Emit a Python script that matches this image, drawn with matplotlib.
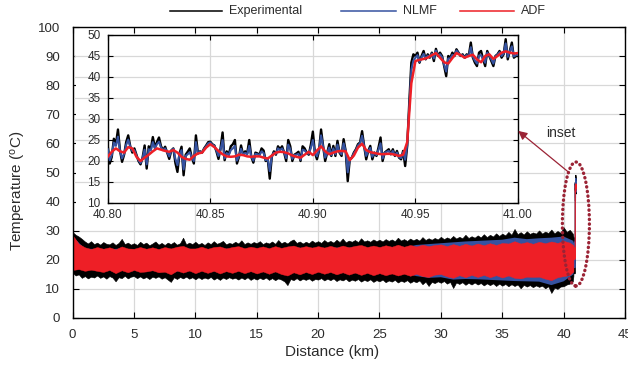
import numpy as np
import matplotlib
matplotlib.use('Agg')
import matplotlib.pyplot as plt
from matplotlib.patches import Ellipse, Rectangle
from matplotlib.lines import Line2D

plt.rcParams['font.family'] = ['Liberation Sans', 'DejaVu Sans']
plt.rcParams['mathtext.default'] = 'regular'

# ---------------- data ----------------
series_names = ['Experimental', 'NLMF', 'ADF']
series_colors = ['#000000', '#3552a0', '#ee1f26']

# Experimental envelope, sampled every 0.25 km
exp_km = np.append(np.arange(0, 40.76, 0.25), 40.8)
exp_upper = [29.5, 28.6, 28.0, 27.2, 26.3, 25.6, 26.4, 25.4, 25.9, 25.2, 26.1, 25.5,
             25.3, 26.0, 25.1, 25.8, 27.2, 25.4, 25.9, 25.2, 25.7, 25.1, 26.2, 25.4,
             25.9, 25.0, 25.6, 26.3, 25.2, 25.8, 25.1, 25.9, 25.4, 26.1, 25.2, 25.7,
             27.6, 25.3, 25.9, 25.4, 26.2, 25.3, 25.8, 25.1, 26.0, 25.4, 26.4, 25.5,
             25.9, 26.5, 25.3, 25.8, 25.5, 26.2, 25.6, 26.7, 25.4, 26.0, 25.5, 26.1,
             25.7, 26.4, 25.4, 26.0, 25.6, 26.3, 25.5, 26.8, 25.7, 26.2, 25.6, 26.5,
             27.0, 25.8, 26.3, 25.6, 26.2, 25.7, 26.6, 25.9, 26.4, 25.8, 26.8, 26.0,
             26.5, 25.9, 26.9, 26.1, 27.3, 26.0, 26.6, 26.2, 26.8, 26.1, 27.4, 26.3,
             26.7, 26.2, 27.0, 26.4, 26.9, 26.3, 27.1, 26.5, 27.0, 26.4, 27.6, 26.6,
             27.1, 26.5, 27.3, 26.7, 27.2, 26.6, 27.8, 26.8, 27.4, 26.9, 27.5, 27.0,
             27.9, 27.1, 27.7, 27.2, 28.2, 27.3, 27.9, 27.4, 28.6, 27.5, 28.1, 27.6,
             28.4, 27.7, 28.8, 27.8, 28.6, 28.0, 29.1, 28.2, 29.0, 28.4, 29.6, 28.6,
             30.6, 28.8, 29.5, 28.7, 29.8, 28.9, 29.4, 29.0, 30.1, 29.0, 29.7, 29.2,
             30.4, 29.1, 29.9, 29.3, 31.2, 29.6, 30.3, 29.0, 28.0]
exp_lower = [15.5, 14.6, 15.0, 13.8, 14.4, 13.6, 14.2, 13.9, 14.6, 13.8, 14.3, 13.5,
             14.4, 13.9, 12.6, 14.0, 13.7, 14.5, 13.6, 14.2, 14.4, 13.7, 14.3, 13.6,
             14.1, 13.4, 14.2, 13.8, 14.3, 13.5, 14.0, 13.2, 12.4, 14.0, 13.4, 14.1,
             13.6, 14.2, 13.5, 14.0, 13.3, 14.0, 13.4, 13.9, 13.5, 14.1, 13.2, 13.8,
             13.1, 13.9, 13.4, 14.0, 13.5, 13.8, 13.2, 13.9, 13.3, 14.0, 13.1, 13.7,
             13.2, 13.8, 13.3, 13.9, 13.1, 13.7, 13.0, 13.6, 13.2, 12.6, 11.3, 13.4,
             13.0, 13.7, 12.9, 13.5, 13.1, 13.6, 12.8, 13.4, 13.2, 13.7, 12.9, 13.5,
             13.0, 13.6, 12.7, 13.3, 12.9, 13.5, 12.6, 13.2, 12.8, 13.4, 12.5, 13.1,
             12.7, 13.3, 12.4, 13.0, 12.6, 13.2, 12.3, 12.9, 12.5, 13.1, 12.2, 12.8,
             12.4, 13.0, 12.1, 12.7, 12.3, 12.9, 11.6, 12.5, 11.0, 12.4, 12.0, 12.6,
             12.1, 12.7, 11.8, 12.4, 10.3, 12.2, 11.7, 12.3, 11.4, 12.1, 11.5, 12.2,
             11.5, 12.0, 11.2, 11.9, 11.3, 11.9, 11.0, 11.8, 11.1, 11.7, 10.9, 11.6,
             11.0, 11.5, 10.2, 11.4, 10.8, 11.3, 10.6, 11.2, 10.7, 11.1, 10.2, 10.9,
             8.6, 10.4, 10.0, 10.8, 10.9, 11.5, 11.8, 12.6, 14.5]

# ADF envelope, sampled every 0.5 km
adf_km = np.append(np.arange(0, 40.51, 0.5), 40.8)
adf_upper = [28.5, 25.5, 24.3, 23.7, 24.4, 23.8, 24.3, 23.6, 24.6, 23.9,
             23.8, 24.4, 23.8, 24.3, 23.7, 24.4, 23.9, 24.5, 24.8, 23.9,
             23.9, 24.5, 23.8, 24.4, 24.6, 23.9, 24.4, 24.7, 24.0, 24.5,
             24.1, 24.6, 24.0, 24.7, 24.1, 24.6, 24.9, 24.2, 24.7, 24.2,
             24.7, 24.2, 24.8, 24.2, 24.9, 24.3, 24.8, 25.1, 24.4, 24.9,
             24.4, 25.0, 24.5, 25.2, 24.5, 25.1, 24.6, 25.2, 24.7, 25.1,
             25.3, 24.7, 25.4, 24.8, 25.5, 24.9, 25.6, 25.0, 25.7, 25.1,
             25.8, 25.6, 26.4, 25.6, 26.1, 25.5, 26.2, 25.7, 26.3, 25.8,
             26.5, 25.9, 25.0]
adf_lower = [16.5, 16.8, 16.2, 16.6, 16.2, 15.8, 16.5, 15.4, 16.4, 15.7,
             16.5, 15.8, 16.0, 16.4, 15.7, 15.9, 15.0, 16.3, 15.6, 16.3,
             15.4, 16.2, 15.5, 16.2, 15.3, 16.1, 15.5, 16.2, 15.4, 16.1,
             15.3, 16.0, 15.2, 16.0, 15.1, 14.6, 15.7, 15.0, 15.8, 15.1,
             15.9, 15.2, 15.8, 15.0, 15.7, 14.9, 15.6, 14.8, 15.5, 14.7,
             15.4, 14.7, 15.3, 14.6, 15.2, 14.5, 15.2, 14.4, 14.1, 14.9,
             15.1, 14.3, 13.8, 14.7, 14.0, 14.8, 14.1, 14.8, 14.0, 14.7,
             13.9, 14.6, 13.8, 13.6, 14.2, 14.1, 14.2, 13.5, 13.0, 14.0,
             14.4, 14.8, 16.0]

# NLMF envelope, sampled every 1 km
nlmf_km = np.append(np.arange(0, 40.1, 1.0), 40.8)
nlmf_upper = [28.0, 23.8, 23.7, 23.6, 23.9, 23.4, 23.5, 23.4, 23.5, 24.1,
              23.5, 23.5, 23.9, 23.7, 23.6, 23.7, 23.6, 23.7, 24.2, 24.0,
              24.0, 24.1, 24.2, 24.1, 24.0, 24.0, 24.1, 24.1, 25.1, 25.4,
              25.7, 26.0, 26.3, 26.5, 26.7, 26.9, 27.6, 27.1, 27.4, 27.6,
              28.0, 26.5]
nlmf_lower = [17.0, 16.9, 16.9, 16.8, 16.7, 16.8, 16.3, 16.4, 15.7, 16.3,
              16.1, 16.2, 16.0, 16.2, 16.1, 16.0, 15.9, 15.8, 16.0, 16.1,
              16.2, 16.1, 16.0, 15.9, 15.8, 15.7, 15.6, 15.5, 14.4, 13.8,
              14.0, 13.2, 13.4, 13.3, 13.1, 12.9, 12.7, 12.6, 12.5, 11.3,
              12.6, 15.0]

# detailed traces, 40.800 - 41.000 km (1 m steps)
inset_km = np.linspace(40.8, 41.0, 201)
exp_detail = [23.7, 19.4, 21.0, 25.3, 24.0, 27.5, 22.5, 19.8, 21.5, 24.5,
              26.1, 23.5, 22.0, 23.0, 21.5, 20.0, 19.2, 20.8, 23.7, 18.2,
              23.5, 22.8, 25.7, 23.2, 24.5, 25.6, 23.5, 22.6, 23.4, 22.0,
              20.5, 22.5, 23.0, 19.5, 17.4, 21.8, 23.4, 16.6, 21.5, 22.2,
              23.0, 20.8, 19.4, 26.1, 21.8, 22.3, 22.0, 23.0, 23.7, 24.5,
              24.6, 24.0, 23.7, 22.3, 20.5, 23.0, 26.8, 20.2, 22.3, 21.5,
              23.5, 24.0, 25.0, 19.4, 21.0, 23.7, 21.5, 22.3, 21.8, 25.0,
              21.0, 19.6, 22.0, 21.8, 21.5, 23.0, 22.5, 20.0, 20.5, 15.8,
              21.0, 22.3, 21.5, 23.5, 22.8, 23.5, 22.0, 20.0, 25.0, 23.5,
              20.0, 21.5, 21.8, 22.2, 20.0, 23.5, 23.0, 22.0, 21.5, 23.8,
              27.0, 22.0, 20.4, 22.4, 27.5, 23.6, 20.0, 22.0, 24.0, 21.2,
              23.6, 21.2, 24.8, 22.0, 21.2, 25.2, 22.4, 15.2, 20.4, 20.8,
              22.0, 22.8, 24.0, 24.4, 27.1, 23.6, 20.4, 22.4, 23.6, 20.4,
              22.0, 21.2, 23.2, 25.6, 20.0, 22.0, 22.4, 22.8, 21.6, 22.8,
              21.2, 22.4, 20.8, 20.4, 22.4, 18.8, 23.6, 33.9, 43.4, 45.4,
              45.0, 45.8, 43.4, 45.0, 46.2, 44.2, 45.4, 44.6, 45.8, 43.8,
              46.7, 45.0, 45.8, 45.0, 42.6, 40.2, 45.0, 44.6, 45.8, 45.0,
              46.6, 45.8, 45.0, 45.4, 44.6, 45.4, 45.0, 48.2, 44.6, 43.4,
              42.6, 45.8, 46.2, 44.2, 42.6, 46.2, 45.0, 43.8, 42.6, 45.0,
              45.4, 46.2, 44.6, 45.4, 49.0, 44.2, 46.2, 48.2, 44.6, 45.0,
              45.0]
nlmf_detail = [22.8, 20.2, 21.4, 24.4, 23.6, 25.8, 22.4, 20.6, 21.7, 23.8,
               25.1, 23.4, 22.4, 22.6, 21.3, 20.2, 19.5, 20.7, 22.7, 19.2,
               22.8, 22.5, 24.5, 23.0, 24.0, 24.6, 23.2, 22.6, 23.0, 22.1,
               21.1, 22.5, 22.9, 20.5, 19.0, 21.7, 22.6, 18.0, 21.2, 21.6,
               22.1, 20.8, 20.0, 24.5, 21.8, 22.2, 22.0, 22.9, 23.5, 24.2,
               24.4, 23.9, 23.6, 22.5, 21.2, 22.7, 25.0, 20.6, 21.9, 21.4,
               22.6, 23.0, 23.6, 20.1, 21.2, 22.9, 21.5, 21.9, 21.6, 23.6,
               21.0, 20.1, 21.7, 21.6, 21.4, 22.3, 21.9, 20.2, 20.5, 17.6,
               21.1, 22.0, 21.7, 23.0, 22.6, 23.0, 22.1, 20.7, 23.9, 22.8,
               20.5, 21.4, 21.5, 21.7, 20.3, 22.7, 22.5, 21.9, 21.7, 23.1,
               25.0, 22.0, 21.1, 22.6, 26.1, 23.4, 20.8, 22.0, 23.2, 21.4,
               23.0, 21.6, 23.9, 22.1, 21.6, 24.2, 22.4, 17.3, 20.3, 20.8,
               21.8, 22.6, 23.7, 24.2, 26.0, 23.5, 21.2, 22.4, 23.1, 21.0,
               22.0, 21.4, 22.7, 24.2, 20.6, 21.9, 22.2, 22.4, 21.6, 22.4,
               21.3, 22.0, 20.9, 20.7, 22.1, 20.3, 23.9, 33.0, 41.7, 43.9,
               44.6, 45.2, 43.6, 44.7, 45.5, 44.3, 45.1, 44.7, 45.6, 44.4,
               46.3, 45.1, 45.4, 44.7, 42.9, 41.3, 44.4, 44.4, 45.3, 45.0,
               46.3, 45.7, 45.1, 45.2, 44.6, 45.2, 45.0, 47.1, 44.8, 43.9,
               43.2, 45.1, 45.2, 44.2, 43.4, 45.8, 45.1, 44.2, 43.2, 44.9,
               45.3, 45.9, 45.0, 45.6, 48.0, 44.8, 46.1, 47.3, 44.9, 45.2,
               45.3]
adf_detail_km = np.linspace(40.8, 41.0, 101)
adf_detail = [21.0, 22.2, 23.0, 22.3, 22.0, 23.3, 23.0, 21.0, 20.0, 20.8,
              21.5, 22.3, 23.0, 22.7, 22.4, 22.2, 22.6, 22.0, 21.0, 20.5,
              20.3, 21.2, 21.8, 22.0, 23.2, 24.0, 23.3, 22.4, 21.6, 21.1,
              21.0, 21.1, 21.5, 21.4, 21.1, 21.0, 21.1, 21.1, 20.8, 20.6,
              21.3, 22.0, 22.2, 22.1, 21.8, 21.3, 21.0, 20.8, 21.5, 22.2,
              21.4, 22.5, 23.5, 22.3, 21.6, 22.0, 22.3, 22.4, 22.3, 20.2,
              21.3, 23.2, 24.1, 22.6, 22.1, 21.9, 21.7, 21.6, 21.7, 21.7,
              21.5, 21.2, 21.5, 24.5, 38.5, 43.8, 44.1, 44.3, 44.6, 45.2,
              45.7, 44.6, 43.5, 43.2, 44.5, 45.7, 45.2, 44.6, 45.0, 45.3,
              44.2, 43.5, 45.0, 45.4, 44.3, 45.0, 45.8, 46.1, 45.8, 45.6,
              45.7]

main_xticks = [0, 5, 10, 15, 20, 25, 30, 35, 40, 45]
main_yticks = [0, 10, 20, 30, 40, 50, 60, 70, 80, 90, 100]
inset_xticks = [40.80, 40.85, 40.90, 40.95, 41.00]
inset_yticks = [10, 15, 20, 25, 30, 35, 40, 45, 50]

# ---------------- figure ----------------
W, H = 628, 370
fig = plt.figure(figsize=(W / 100, H / 100), dpi=100)
txt_col = '#2b2b2b'
grid_col = '#d8d8d8'
ann_col = '#9b2335'

def fx(px):
    return px / W

def fy(py):
    return 1 - py / H

ax = fig.add_axes([fx(72.6), fy(318), (625 - 72.6) / W, (318 - 27) / H])
ax.set_xlim(0, 45)
ax.set_ylim(0, 100)
ax.set_xticks(main_xticks)
ax.set_yticks(main_yticks)
ax.set_axisbelow(True)
ax.grid(True, color=grid_col, lw=0.9)
ax.tick_params(direction='in', top=True, right=True, length=4, width=0.8,
               labelsize=9.5, labelcolor=txt_col)
ax.tick_params(axis='y', pad=9)
ax.tick_params(axis='x', pad=8)
for s in ax.spines.values():
    s.set_linewidth(1.0)

ax.fill_between(exp_km, exp_lower, exp_upper, facecolor=series_colors[0],
                edgecolor=series_colors[0], lw=0.4, zorder=2)
ax.fill_between(nlmf_km, nlmf_lower, nlmf_upper, facecolor=series_colors[1],
                lw=0, zorder=2.1)
ax.fill_between(adf_km, adf_lower, adf_upper, facecolor=series_colors[2],
                edgecolor=series_colors[2], lw=0.3, zorder=2.2)
ax.plot(inset_km, exp_detail, color=series_colors[0], lw=0.8, zorder=2)
ax.plot(inset_km, nlmf_detail, color=series_colors[1], lw=0.8, zorder=2.1)
ax.plot(adf_detail_km, adf_detail, color=series_colors[2], lw=0.8, zorder=2.2)

# white strip left of inset (under main ticks)
ax.add_patch(Rectangle((0.25, 39.2), 2.6, 57.8, facecolor='white',
                       edgecolor='none', zorder=1))

ell = Ellipse((41.0, 32.3), 2.2, 42.6, fill=False, edgecolor=ann_col,
              lw=2.4, linestyle=(0, (0.1, 1.3)), zorder=4)
ell.set_capstyle('round')
ax.add_patch(ell)
ax.text(39.8, 63.6, 'inset', fontsize=10, color=txt_col, ha='center',
        va='center')

# ---------------- inset ----------------
ax_in = fig.add_axes([fx(107.7), fy(203), (518 - 107.7) / W, (203 - 35) / H])
ax_in.set_xlim(40.8, 41.0)
ax_in.set_ylim(10, 50)
ax_in.set_xticks(inset_xticks)
ax_in.set_xticklabels(['%.2f' % v for v in inset_xticks])
ax_in.set_yticks(inset_yticks)
ax_in.set_facecolor('white')
ax_in.grid(True, color=grid_col, lw=0.9)
ax_in.set_axisbelow(True)
ax_in.tick_params(direction='in', top=True, right=True, length=3.5, width=0.8,
                  labelsize=8.5, labelcolor=txt_col)
ax_in.tick_params(axis='y', pad=5)
ax_in.tick_params(axis='x', pad=4)
for s in ax_in.spines.values():
    s.set_linewidth(1.0)
ax_in.hlines(inset_yticks[1:-1], -0.083, 0, transform=ax_in.get_yaxis_transform(),
             color=grid_col, lw=0.9, clip_on=False, zorder=0)

ax_in.plot(inset_km, exp_detail, color=series_colors[0], lw=1.7, zorder=2)
ax_in.plot(inset_km, nlmf_detail, color=series_colors[1], lw=1.5, zorder=3)
ax_in.plot(adf_detail_km, adf_detail, color=series_colors[2], lw=1.8, zorder=4)

ax_in.annotate('', xy=(36.3, 64.3), xycoords=ax.transData,
               xytext=(40.35, 50.3), textcoords=ax.transData,
               arrowprops=dict(arrowstyle='-|>', color=ann_col, lw=0.9,
                               mutation_scale=13, shrinkA=0, shrinkB=0),
               annotation_clip=False, zorder=10)

# ---------------- legend ----------------
leg_line_x = [(170, 222), (341, 396), (460, 514)]
for (x0, x1), name, col in zip(leg_line_x, series_names, series_colors):
    fig.add_artist(Line2D([fx(x0), fx(x1)], [fy(11), fy(11)], color=col,
                          lw=1.1, transform=fig.transFigure))
    fig.text(fx(x1 + 7), fy(11), name, fontsize=9, color=txt_col,
             ha='left', va='center')

fig.text(fx(332), fy(352), 'Distance (km)', fontsize=11, color=txt_col,
         ha='center', va='center')
fig.text(fx(19), fy(191), 'Temperature ($^{o}$C)', fontsize=11, color=txt_col,
         ha='center', va='center', rotation=90)

fig.savefig('out.png', dpi=100)
